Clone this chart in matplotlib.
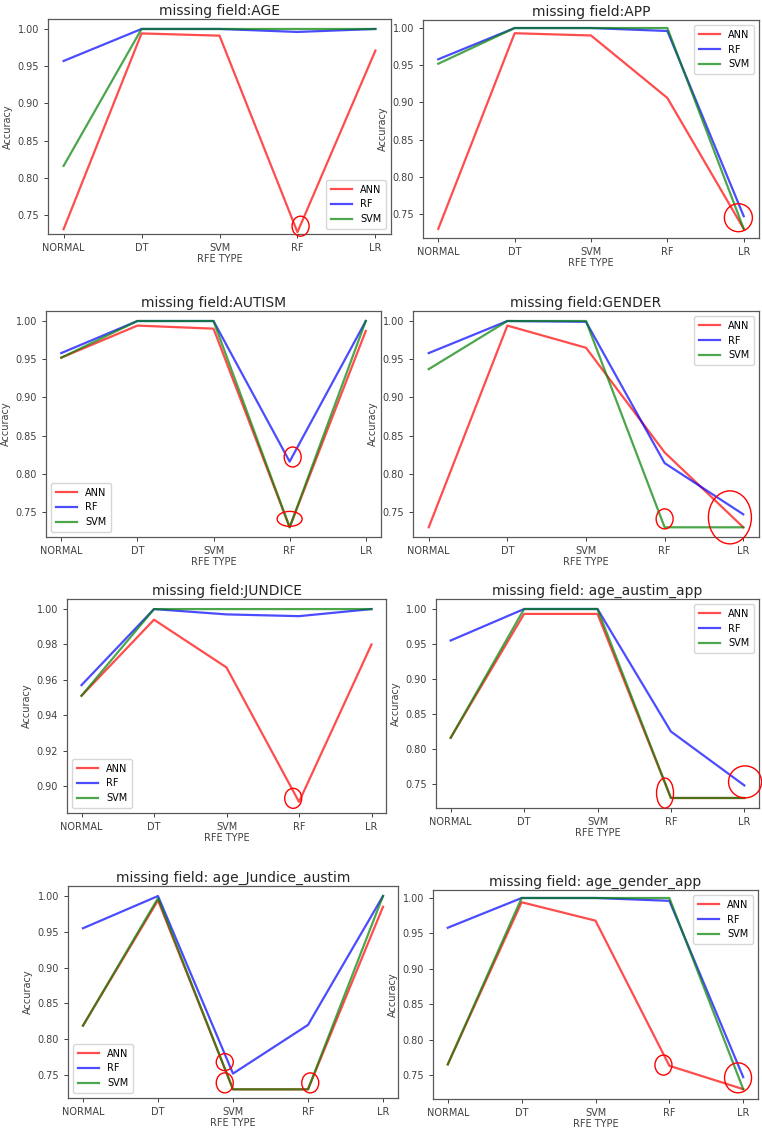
import matplotlib

matplotlib.use("Agg")
import matplotlib.pyplot as plt
from matplotlib.patches import Ellipse
from matplotlib.transforms import ScaledTranslation

W, H = 762, 1130
RFE_TYPES = ["NORMAL", "DT", "SVM", "RF", "LR"]
MODELS = ["ANN", "RF", "SVM"]
COLORS = {"ANN": "red", "RF": "blue", "SVM": "green"}

TITLES = [
    "missing field:AGE",
    "missing field:APP",
    "missing field:AUTISM",
    "missing field:GENDER",
    "missing field:JUNDICE",
    "missing field: age_austim_app",
    "missing field: age_Jundice_austim",
    "missing field: age_gender_app",
]

# accuracy per RFE type (NORMAL, DT, SVM, RF, LR)
ANN = [
    [0.731, 0.994, 0.991, 0.727, 0.971],
    [0.730, 0.993, 0.990, 0.906, 0.730],
    [0.952, 0.994, 0.990, 0.730, 0.987],
    [0.730, 0.994, 0.965, 0.828, 0.730],
    [0.951, 0.994, 0.967, 0.891, 0.980],
    [0.816, 0.993, 0.993, 0.730, 0.730],
    [0.819, 0.994, 0.730, 0.730, 0.985],
    [0.765, 0.994, 0.968, 0.763, 0.730],
]
RF = [
    [0.957, 1.000, 1.000, 0.996, 1.000],
    [0.958, 1.000, 1.000, 0.996, 0.747],
    [0.958, 1.000, 1.000, 0.816, 1.000],
    [0.958, 1.000, 0.999, 0.814, 0.747],
    [0.957, 1.000, 0.997, 0.996, 1.000],
    [0.955, 1.000, 1.000, 0.825, 0.748],
    [0.955, 1.000, 0.752, 0.820, 1.000],
    [0.958, 1.000, 1.000, 0.996, 0.747],
]
SVM = [
    [0.816, 1.000, 1.000, 1.000, 1.000],
    [0.952, 1.000, 1.000, 1.000, 0.730],
    [0.952, 1.000, 1.000, 0.730, 1.000],
    [0.937, 1.000, 1.000, 0.730, 0.730],
    [0.951, 1.000, 1.000, 1.000, 1.000],
    [0.816, 1.000, 1.000, 0.730, 0.730],
    [0.819, 0.997, 0.730, 0.730, 1.000],
    [0.765, 1.000, 1.000, 1.000, 0.730],
]
YLIMS = [
    (0.7245, 1.0134), (0.7177, 1.0108), (0.7173, 1.0131), (0.7173, 1.0131),
    (0.8847, 1.0057), (0.7157, 1.0143), (0.7179, 1.0140), (0.7161, 1.0113),
]
LEGEND_LOC = ["lower right", "upper right", "lower left", "upper right",
              "lower left", "upper right", "lower left", "upper right"]

# red highlight ellipses: (x position, accuracy, width px, height px)
MARKS = [
    [(3.04, 0.735, 17, 20)],
    [(3.93, 0.745, 28, 28)],
    [(3.04, 0.822, 17, 20), (3.0, 0.741, 25, 15)],
    [(3.0, 0.741, 17, 20), (3.83, 0.743, 43, 53)],
    [(2.92, 0.893, 17, 20)],
    [(2.92, 0.737, 17, 30), (4.01, 0.753, 33, 32)],
    [(1.89, 0.768, 17, 17), (1.89, 0.739, 17, 20), (3.03, 0.739, 17, 20)],
    [(2.92, 0.764, 17, 20), (3.93, 0.746, 27, 30)],
]

# panel boxes in pixels: left, top, right, bottom
BOXES = [
    (48, 19, 391, 234), (423, 20, 759, 238),
    (46, 311, 381, 537), (413, 311, 759, 537),
    (67, 599, 386, 813), (436, 599, 759, 808),
    (68, 886, 398, 1098), (433, 890, 758, 1099),
]

fig = plt.figure(figsize=(W / 100, H / 100), dpi=100)
fig.patch.set_facecolor("white")

for i, (l, t, r, b) in enumerate(BOXES):
    ax = fig.add_axes([l / W, 1 - b / H, (r - l) / W, (b - t) / H])
    x = list(range(len(RFE_TYPES)))
    series = {"ANN": ANN[i], "RF": RF[i], "SVM": SVM[i]}
    for m in MODELS:
        ax.plot(x, series[m], color=COLORS[m], alpha=0.7, lw=1.6, label=m)
    ax.set_xticks(x)
    ax.set_xticklabels(RFE_TYPES)
    ax.set_xlim(-0.2, 4.2)
    ax.set_ylim(*YLIMS[i])
    if i == 4:
        ax.set_yticks([0.90, 0.92, 0.94, 0.96, 0.98, 1.00])
    else:
        ax.set_yticks([0.75, 0.80, 0.85, 0.90, 0.95, 1.00])
    ax.yaxis.set_major_formatter(matplotlib.ticker.FormatStrFormatter("%.2f"))
    ax.tick_params(labelsize=7, colors="0.25", length=3, width=0.7)
    for s in ax.spines.values():
        s.set_color("0.35")
        s.set_linewidth(0.9)
    ax.set_title(TITLES[i], fontsize=10, color="0.15", pad=3)
    ax.set_xlabel("RFE TYPE", fontsize=7, color="0.25", labelpad=1)
    ax.set_ylabel("Accuracy", fontsize=7, color="0.25", labelpad=3)
    ax.legend(loc=LEGEND_LOC[i], fontsize=7, handlelength=2.2,
              borderpad=0.5, labelspacing=0.5)
    for cx, cy, w, h in MARKS[i]:
        tr = fig.dpi_scale_trans + ScaledTranslation(cx, cy, ax.transData)
        ax.add_patch(Ellipse((0, 0), w / 100, h / 100, transform=tr,
                             fill=False, edgecolor="red", lw=1.0,
                             clip_on=False, zorder=5))

fig.savefig("out.png", dpi=100)
